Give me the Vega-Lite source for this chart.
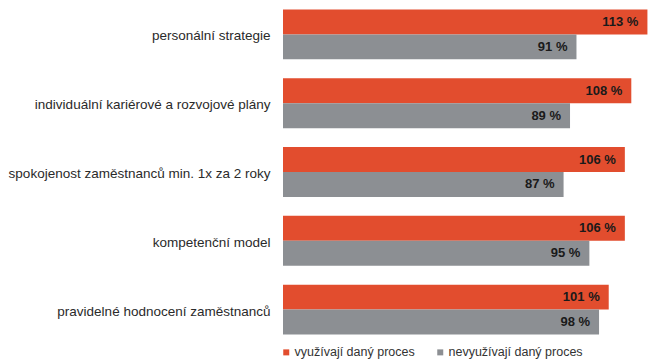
{
  "$schema": "https://vega.github.io/schema/vega-lite/v6.json",
  "width": 387,
  "height": 344,
  "autosize": "none",
  "padding": {"left": 283, "top": 0, "right": 0, "bottom": 18},
  "background": "white",
  "config": {"view": {"stroke": null}, "font": "Liberation Sans"},
  "data": {"values": [
    {"kat": "personální strategie", "skupina": "využívají daný proces", "hodnota": 113, "popisek": "113 %"},
    {"kat": "personální strategie", "skupina": "nevyužívají daný proces", "hodnota": 91, "popisek": "91 %"},
    {"kat": "individuální kariérové a rozvojové plány", "skupina": "využívají daný proces", "hodnota": 108, "popisek": "108 %"},
    {"kat": "individuální kariérové a rozvojové plány", "skupina": "nevyužívají daný proces", "hodnota": 89, "popisek": "89 %"},
    {"kat": "spokojenost zaměstnanců min. 1x za 2 roky", "skupina": "využívají daný proces", "hodnota": 106, "popisek": "106 %"},
    {"kat": "spokojenost zaměstnanců min. 1x za 2 roky", "skupina": "nevyužívají daný proces", "hodnota": 87, "popisek": "87 %"},
    {"kat": "kompetenční model", "skupina": "využívají daný proces", "hodnota": 106, "popisek": "106 %"},
    {"kat": "kompetenční model", "skupina": "nevyužívají daný proces", "hodnota": 95, "popisek": "95 %"},
    {"kat": "pravidelné hodnocení zaměstnanců", "skupina": "využívají daný proces", "hodnota": 101, "popisek": "101 %"},
    {"kat": "pravidelné hodnocení zaměstnanců", "skupina": "nevyužívají daný proces", "hodnota": 98, "popisek": "98 %"}
  ]},
  "encoding": {
    "y": {
      "field": "kat", "type": "nominal", "sort": null,
      "scale": {"paddingInner": 0.275, "paddingOuter": 0.1375},
      "axis": {"title": null, "domain": false, "ticks": false, "labelPadding": 13, "labelFontSize": 13.5, "labelColor": "#2a2a2a", "labelLimit": 300, "labelFont": "Liberation Sans", "labelBaseline": "middle", "labelOffset": 2}
    },
    "yOffset": {"field": "skupina", "type": "nominal", "sort": ["využívají daný proces", "nevyužívají daný proces"], "scale": {"paddingInner": 0}},
    "x": {
      "field": "hodnota", "type": "quantitative",
      "scale": {"domain": [0, 120], "nice": false},
      "axis": null
    }
  },
  "layer": [
    {
      "mark": {"type": "bar"},
      "encoding": {
        "color": {
          "field": "skupina", "type": "nominal",
          "sort": ["využívají daný proces", "nevyužívají daný proces"],
          "scale": {"domain": ["využívají daný proces", "nevyužívají daný proces"], "range": ["#E24D2E", "#8C8F93"]},
          "legend": {
            "title": null, "orient": "none", "direction": "horizontal",
            "legendX": -3, "legendY": 346,
            "symbolType": "square", "symbolSize": 36, "symbolStrokeWidth": 0,
            "labelFontSize": 12.5, "labelColor": "#333", "labelOffset": 2,
            "columnPadding": 19, "labelFont": "Liberation Sans"
          }
        }
      }
    },
    {
      "mark": {"type": "text", "align": "right", "baseline": "middle", "dx": -9, "fontWeight": "bold", "fontSize": 13, "color": "#1a1a1a", "font": "Liberation Sans"},
      "encoding": {
        "text": {"field": "popisek", "type": "nominal"}
      }
    }
  ]
}
